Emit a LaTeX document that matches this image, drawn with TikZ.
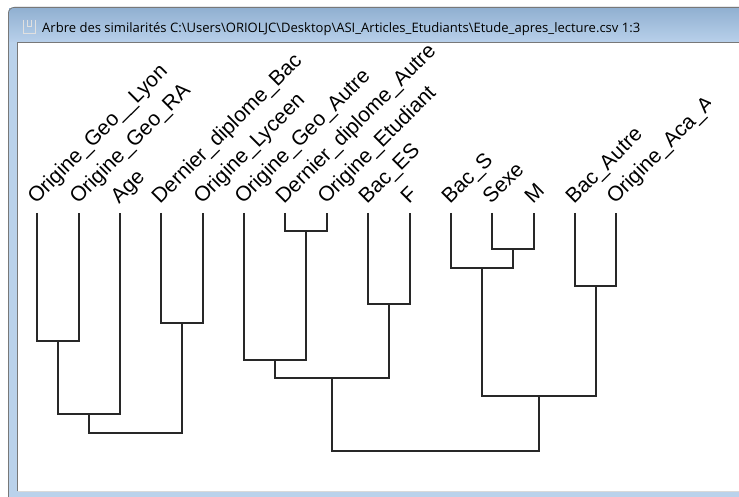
\documentclass[tikz,border=0pt]{standalone}
\usepackage{fontspec}
\setmainfont{Liberation Sans}
\newfontfamily\titlefont{Open Sans}
\usetikzlibrary{calc}
\definecolor{framefill}{RGB}{186,210,235}
\definecolor{tbtop}{RGB}{146,177,210}
\definecolor{tbbot}{RGB}{184,208,234}
\definecolor{edgegray}{RGB}{120,120,120}
\definecolor{treeline}{RGB}{40,40,40}
\tikzset{
  leaflabel/.style={anchor=base west, rotate=45, inner sep=0pt, font=\fontsize{21}{23}\selectfont},
  branch/.style={draw=treeline, line width=1.6pt},
}
\begin{document}
\begin{tikzpicture}[x=1pt,y=-1pt]
\useasboundingbox (0,0) rectangle (739,497);
\fill[white] (0,0) rectangle (739,497);
% window frame
\fill[framefill] (8,497) [rounded corners=6pt] -- (8,7) [sharp corners] -- (739,7) -- (739,497) -- cycle;
\shade[top color=tbtop, bottom color=tbbot] (9,9) rectangle (739,42);
\draw[edgegray, line width=0.8pt] (8.4,497) [rounded corners=6pt] -- (8.4,7.4) [sharp corners] -- (739,7.4);
\fill[white] (18,43) rectangle (739,491);
\draw[edgegray, line width=1.2pt] (17.6,491) -- (17.6,42.6) -- (739,42.6);
\draw[black!15, line width=1pt] (18,491.5) -- (739,491.5);
% icon
\draw[black!12, line width=1pt] (23,20) -- (23,34) -- (35,34) -- (35,20) (27,20) -- (27,27) -- (31,27) -- (31,20);
% title
\node[anchor=base west, inner sep=0pt] (title) at (42,33) {\resizebox{598pt}{!}{\titlefont\fontsize{12}{14}\selectfont Arbre des similarités C:\textbackslash Users\textbackslash ORIOLJC\textbackslash Desktop\textbackslash ASI\_Articles\_Etudiants\textbackslash Etude\_apres\_lecture.csv 1:3}};
% leaves
\foreach \i/\x in {1/37,2/79,3/120,4/161,5/203,6/244,7/285,8/327,9/368,10/410,11/451,12/492,13/534,14/575,15/616}{
  \coordinate (l\i) at (\x,213);
}
% labels
\begin{scope}
\clip (18,43) rectangle (710,491);
\foreach \i/\t in {1/Origine\_Geo\_\_Lyon,2/Origine\_Geo\_RA,3/Age,4/Dernier\_diplome\_Bac,5/Origine\_Lyceen,6/Origine\_Geo\_Autre,7/Dernier\_diplome\_Autre,8/Origine\_Etudiant,9/Bac\_ES,10/F,11/Bac\_S,12/Sexe,13/M,14/Bac\_Autre,15/Origine\_Aca\_A}{
  \node[leaflabel] (t\i) at ($(l\i)+(-1,-8)$) {\t};
}
\end{scope}
% merge points
\coordinate (m12) at (58,341);
\coordinate (m123) at (89,414);
\coordinate (m45) at (182,323);
\coordinate (mA) at (136,433);
\coordinate (m78) at (306,231);
\coordinate (m678) at (275,360);
\coordinate (m910) at (389,304);
\coordinate (m6to10) at (332,378);
\coordinate (m1213) at (513,249);
\coordinate (m11to13) at (482,268);
\coordinate (m1415) at (596,286);
\coordinate (m11to15) at (539,396);
\coordinate (mB) at (435,451);
% branches
\draw[branch] (l1) |- (m12) -| (l2);
\draw[branch] (m12) |- (m123) -| (l3);
\draw[branch] (l4) |- (m45) -| (l5);
\draw[branch] (m123) |- (mA) -| (m45);
\draw[branch] (l7) |- (m78) -| (l8);
\draw[branch] (l6) |- (m678) -| (m78);
\draw[branch] (l9) |- (m910) -| (l10);
\draw[branch] (m678) |- (m6to10) -| (m910);
\draw[branch] (l12) |- (m1213) -| (l13);
\draw[branch] (l11) |- (m11to13) -| (m1213);
\draw[branch] (l14) |- (m1415) -| (l15);
\draw[branch] (m11to13) |- (m11to15) -| (m1415);
\draw[branch] (m6to10) |- (mB) -| (m11to15);
\end{tikzpicture}
\end{document}
